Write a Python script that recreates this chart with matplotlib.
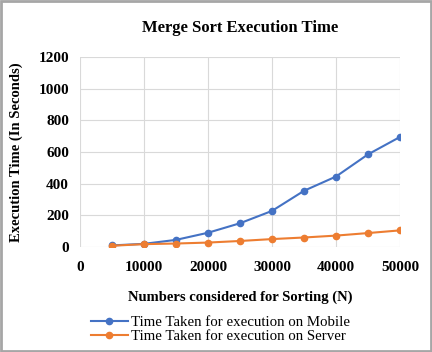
import matplotlib
matplotlib.use("Agg")
import matplotlib.pyplot as plt
from matplotlib.patches import Rectangle

n_values = [5000, 10000, 15000, 20000, 25000, 30000, 35000, 40000, 45000, 50000]
mobile = [10, 20, 45, 90, 150, 228, 355, 445, 585, 695]
server = [8, 18, 22, 28, 38, 50, 60, 72, 88, 105]
x_ticks = [0, 10000, 20000, 30000, 40000, 50000]
y_ticks = [0, 200, 400, 600, 800, 1000, 1200]

plt.rcParams['font.family'] = ['Liberation Serif', 'DejaVu Serif']

fig = plt.figure(figsize=(4.32, 3.52), dpi=100)
ax = fig.add_axes([80/432, 1 - 247/352, 320/432, 190/352])

ax.plot(n_values, mobile, color='#4472C4', marker='o', markersize=4.5, linewidth=1.5,
        label='Time Taken for execution on Mobile')
ax.plot(n_values, server, color='#ED7D31', marker='o', markersize=4.5, linewidth=1.5,
        label='Time Taken for execution on Server')

ax.set_xlim(0, 50000)
ax.set_ylim(0, 1200)
ax.set_xticks(x_ticks)
ax.set_yticks(y_ticks)
ax.grid(True, color='#d9d9d9', linewidth=0.8)
ax.set_axisbelow(True)
for s in ax.spines.values():
    s.set_visible(False)
ax.tick_params(length=0, labelsize=11, pad=8)
for lab in ax.get_xticklabels() + ax.get_yticklabels():
    lab.set_fontweight('bold')
ax.tick_params(axis='x', pad=10)

ax.set_title('Merge Sort Execution Time', fontsize=12, fontweight='bold', pad=18)
ax.set_xlabel('Numbers considered for Sorting (N)', fontsize=10.5, fontweight='bold', labelpad=12)
ax.set_ylabel('Execution Time (In Seconds)', fontsize=10.5, fontweight='bold', labelpad=11)

leg = fig.legend(*ax.get_legend_handles_labels(), loc='upper center',
                 bbox_to_anchor=(0.51, 1 - 308/352), frameon=False,
                 fontsize=10.75, handlelength=2.5, borderpad=0, labelspacing=0.05, handletextpad=0.2)

fig.patches.append(Rectangle((0.002, 0.002), 0.996, 0.996, transform=fig.transFigure,
                             fill=False, edgecolor='#a6a6a6', linewidth=2))

fig.savefig('out.png', dpi=100)
